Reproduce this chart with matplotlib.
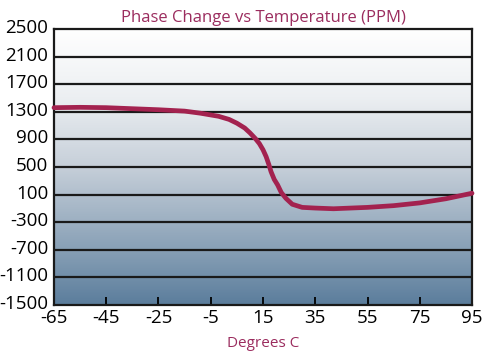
import numpy as np
import matplotlib
matplotlib.use("Agg")
import matplotlib.pyplot as plt
import matplotlib.transforms as mtransforms
from matplotlib.colors import LinearSegmentedColormap

# данные
temps = [-65, -55, -45, -35, -25, -15, -9, -2, 2, 5, 8, 10, 12, 13.6, 15, 16.2,
         17.2, 18.1, 19.3, 20.6, 22, 23.8, 26.2, 30, 35, 42, 55, 65, 75, 85, 95]
phase = [1360, 1365, 1360, 1345, 1330, 1310, 1280, 1235, 1190, 1135, 1065, 995,
         915, 840, 750, 650, 540, 430, 320, 240, 130, 45, -40, -85, -95, -105,
         -85, -60, -20, 40, 120]

x_ticks = [-65, -45, -25, -5, 15, 35, 55, 75, 95]
y_ticks = [2500, 2100, 1700, 1300, 900, 500, 100, -300, -700, -1100, -1500]

plt.rcParams['font.family'] = ['Open Sans', 'DejaVu Sans']
plt.rcParams['axes.unicode_minus'] = False

fig = plt.figure(figsize=(4.94, 3.55), dpi=100)
ax = fig.add_axes([0.1093, 0.1408, 0.8462, 0.7775])

# градиентный фон
bg = LinearSegmentedColormap.from_list(
    'bg', [(0.0, '#5b7d9c'), (0.2, '#88a0b6'), (0.5, '#c6cfd9'),
           (0.75, '#eceff2'), (1.0, '#ffffff')])
grad = np.linspace(0, 1, 256).reshape(-1, 1)
ax.imshow(grad, extent=[-65, 95, -1500, 2500], origin='lower', aspect='auto',
          cmap=bg, zorder=0)

for y in y_ticks[1:-1]:
    ax.axhline(y, color='#1a1a1a', lw=1.6, zorder=1)

ax.plot(temps, phase, color='#a3224f', lw=3.4, solid_joinstyle='round',
        solid_capstyle='round', zorder=3, clip_on=False)

ax.set_xlim(-65, 95)
ax.set_ylim(-1500, 2500)
ax.set_xticks(x_ticks)
ax.set_yticks(y_ticks)
ax.tick_params(axis='x', direction='in', length=6, width=1.3, labelsize=13.5, pad=3)
ax.tick_params(axis='y', length=0, labelsize=13.5, pad=4)
for s in ax.spines.values():
    s.set_linewidth(1.6)
    s.set_color('#1a1a1a')

# подписи оси y чуть выше линий, как в оригинале
shift = mtransforms.ScaledTranslation(0, 3 / 100, fig.dpi_scale_trans)
for lbl in ax.get_yticklabels():
    lbl.set_transform(lbl.get_transform() + shift)

ax.set_title('Phase Change vs Temperature (PPM)', color='#9b2c5e', fontsize=12, pad=5)
ax.set_xlabel('Degrees C', color='#9b2c5e', fontsize=11, labelpad=6)

fig.savefig('out.png', dpi=100)
